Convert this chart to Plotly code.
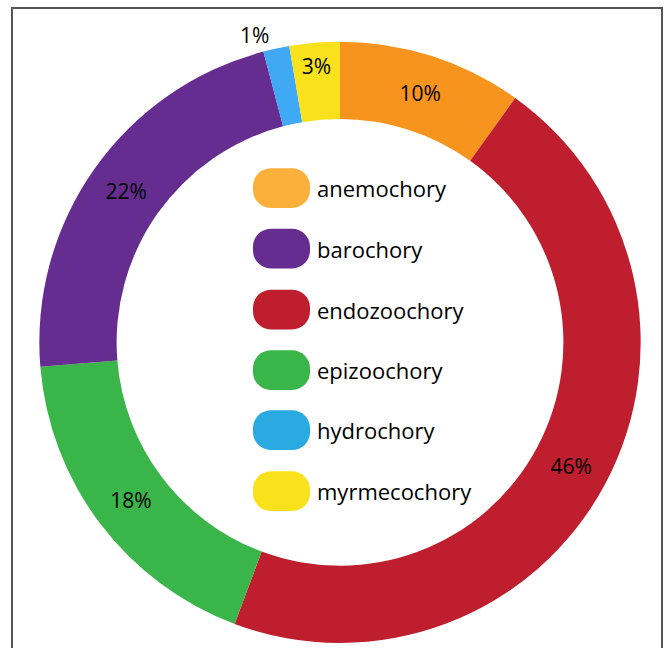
import plotly.graph_objects as go

W, H = 667, 648

# slices, clockwise from 12 o'clock
slice_labels = ['anemochory', 'endozoochory', 'epizoochory', 'barochory', 'hydrochory', 'myrmecochory']
slice_values = [9.9, 45.8, 18.0, 22.2, 1.4, 2.7]
slice_colors = ['#F7941D', '#BE1E2D', '#39B54A', '#662D91', '#3FA9F5', '#F9E21B']
slice_textpos = ['inside', 'inside', 'inside', 'inside', 'outside', 'inside']

# legend in the hole (alphabetical)
legend_labels = ['anemochory', 'barochory', 'endozoochory', 'epizoochory', 'hydrochory', 'myrmecochory']
legend_colors = ['#FBB03B', '#662D91', '#BE1E2D', '#39B54A', '#29ABE2', '#F9E21B']

FONT = 'Open Sans'


def px(x):
    return x / W


def py(y):
    return 1 - y / H


def pill(x0, y0, x1, y1, r):
    '''rounded rect path in paper coords, input in pixels'''
    k = 0.5523 * r
    pts = [
        ('M', [(x0 + r, y0)]),
        ('L', [(x1 - r, y0)]),
        ('C', [(x1 - r + k, y0), (x1, y0 + r - k), (x1, y0 + r)]),
        ('L', [(x1, y1 - r)]),
        ('C', [(x1, y1 - r + k), (x1 - r + k, y1), (x1 - r, y1)]),
        ('L', [(x0 + r, y1)]),
        ('C', [(x0 + r - k, y1), (x0, y1 - r + k), (x0, y1 - r)]),
        ('L', [(x0, y0 + r)]),
        ('C', [(x0, y0 + r - k), (x0 + r - k, y0), (x0 + r, y0)]),
    ]
    s = ''
    for cmd, p in pts:
        s += cmd + ' ' + ' '.join('%.5f,%.5f' % (px(a), py(b)) for a, b in p) + ' '
    return s + 'Z'


cx, cy, R = 340, 345, 303
fig = go.Figure()
fig.add_trace(go.Pie(
    labels=slice_labels, values=slice_values,
    marker=dict(colors=slice_colors, line=dict(width=0)),
    sort=False, direction='clockwise', rotation=0,
    hole=0.743,
    texttemplate='%{percent:.0%}',
    textposition=slice_textpos,
    insidetextorientation='horizontal',
    textfont=dict(family=FONT, size=21, color='black'),
    insidetextfont=dict(family=FONT, size=21, color='black'),
    outsidetextfont=dict(family=FONT, size=21, color='black'),
    domain=dict(x=[px(cx - R), px(cx + R)], y=[py(cy + R), py(cy - R)]),
    showlegend=False, hoverinfo='label+percent',
))

shapes = []
annos = []
row_y = [189.5, 250.5, 312, 373, 433.5, 495]
for lab, col, yc in zip(legend_labels, legend_colors, row_y):
    shapes.append(dict(type='path', xref='paper', yref='paper',
                       path=pill(253, yc - 20, 310, yc + 20, 18),
                       fillcolor=col, line=dict(width=0)))
    annos.append(dict(text=lab, x=px(315), y=py(yc), xref='paper', yref='paper',
                      xanchor='left', yanchor='middle', showarrow=False,
                      font=dict(family=FONT, size=22, color='black')))

# frame (no bottom edge)
shapes.append(dict(type='path', xref='paper', yref='paper',
                   path='M %.5f,%.5f L %.5f,%.5f L %.5f,%.5f L %.5f,%.5f' % (
                       px(12), -0.05, px(12), py(8), px(662), py(8), px(662), -0.05),
                   line=dict(color='#555555', width=2)))

fig.update_layout(width=W, height=H, margin=dict(l=0, r=0, t=0, b=0),
                  paper_bgcolor='white', plot_bgcolor='white',
                  shapes=shapes, annotations=annos)
fig.write_html("out.html", config={'displayModeBar': False},
               post_script="document.body.style.margin='0';")
